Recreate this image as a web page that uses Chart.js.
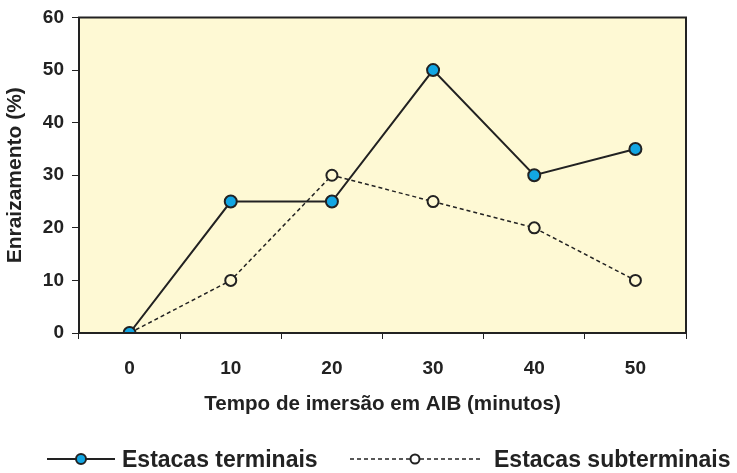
<!DOCTYPE html>
<html>
<head>
<meta charset="utf-8">
<script src="https://cdn.jsdelivr.net/npm/chart.js@4.4.1/dist/chart.umd.min.js"></script>
<style>
  html, body { margin: 0; padding: 0; background: #fff; }
  #wrap { width: 737px; height: 473px; }
</style>
</head>
<body>
<div id="wrap"><canvas id="chart" width="737" height="473"></canvas></div>
<script>
// dados
const tempos = ['0', '10', '20', '30', '40', '50'];
const terminais = [0, 25, 25, 50, 30, 35];
const subterminais = [0, 10, 30, 25, 20, 10];

const FONT = "'Liberation Sans', Arial, sans-serif";
const INK = '#222';
const FUNDO = '#fef9d4';

// fundo e moldura da área do gráfico
const moldura = {
    id: 'moldura',
    beforeDraw(chart) {
        const { ctx, chartArea: a } = chart;
        ctx.save();
        ctx.fillStyle = FUNDO;
        ctx.fillRect(a.left, a.top, a.right - a.left, a.bottom - a.top);
        ctx.restore();
    },
    afterDatasetsDraw(chart) {
        const { ctx, chartArea: a } = chart;
        ctx.save();
        ctx.strokeStyle = INK;
        ctx.lineWidth = 2;
        ctx.strokeRect(a.left, a.top, a.right - a.left, a.bottom - a.top);
        ctx.restore();
    }
};

// legenda em baixo (linha + marcador + texto)
const legenda = {
    id: 'legenda',
    afterDraw(chart) {
        const ctx = chart.ctx;
        const y = 459;
        const itens = [
            { x0: 47, x1: 115, mx: 81, tx: 122, ds: chart.data.datasets[0] },
            { x0: 350, x1: 480, mx: 415, tx: 494, ds: chart.data.datasets[1] }
        ];
        ctx.save();
        itens.forEach((it) => {
            const ds = it.ds;
            ctx.strokeStyle = INK;
            ctx.lineWidth = ds.borderWidth;
            ctx.setLineDash(ds.borderDash || []);
            ctx.beginPath();
            ctx.moveTo(it.x0, y);
            ctx.lineTo(it.x1, y);
            ctx.stroke();
            ctx.setLineDash([]);
            ctx.beginPath();
            ctx.arc(it.mx, y, ds.pointRadius - 1, 0, Math.PI * 2);
            ctx.fillStyle = ds.legendFill;
            ctx.fill();
            ctx.lineWidth = 2;
            ctx.stroke();
            ctx.fillStyle = INK;
            ctx.font = 'bold 23px ' + FONT;
            ctx.textBaseline = 'alphabetic';
            ctx.fillText(ds.label, it.tx, 467);
        });
        ctx.restore();
    }
};

const ctx = document.getElementById('chart').getContext('2d');
new Chart(ctx, {
    type: 'line',
    data: {
        labels: tempos,
        datasets: [
            {
                label: 'Estacas terminais',
                data: terminais,
                borderColor: INK,
                borderWidth: 2,
                pointRadius: 6,
                pointBackgroundColor: '#12a6e3',
                pointBorderColor: INK,
                pointBorderWidth: 2,
                legendFill: '#12a6e3',
                tension: 0
            },
            {
                label: 'Estacas subterminais',
                data: subterminais,
                borderColor: INK,
                borderWidth: 1.5,
                borderDash: [4, 3],
                pointRadius: 5.5,
                pointBackgroundColor: FUNDO,
                pointBorderColor: INK,
                pointBorderWidth: 2,
                legendFill: '#fff',
                tension: 0
            }
        ]
    },
    options: {
        responsive: false,
        animation: false,
        layout: { padding: { left: 0, right: 51, top: 16, bottom: 55 } },
        plugins: {
            legend: { display: false },
            tooltip: { enabled: false }
        },
        scales: {
            x: {
                offset: true,
                afterFit(scale) { scale.height = 85; },
                grid: { offset: true, drawOnChartArea: false, tickLength: 6, color: INK, lineWidth: 1 },
                border: { display: true, color: INK, width: 2 },
                ticks: { color: INK, padding: 18, font: { family: FONT, size: 19, weight: 'bold' } },
                title: {
                    display: true,
                    text: 'Tempo de imersão em AIB (minutos)',
                    color: INK,
                    padding: { top: 0, bottom: 1 },
                    font: { family: FONT, size: 20.6, weight: 'bold' }
                }
            },
            y: {
                min: 0,
                max: 60,
                afterFit(scale) { scale.width = 79; },
                grid: { drawOnChartArea: false, tickLength: 7, color: INK, lineWidth: 1 },
                border: { display: true, color: INK, width: 2 },
                ticks: { stepSize: 10, color: INK, padding: 8, font: { family: FONT, size: 19, weight: 'bold', lineHeight: 1 } },
                title: {
                    display: true,
                    text: 'Enraizamento (%)',
                    color: INK,
                    padding: 3,
                    font: { family: FONT, size: 21, weight: 'bold' }
                }
            }
        }
    },
    plugins: [moldura, legenda]
});
</script>
</body>
</html>
